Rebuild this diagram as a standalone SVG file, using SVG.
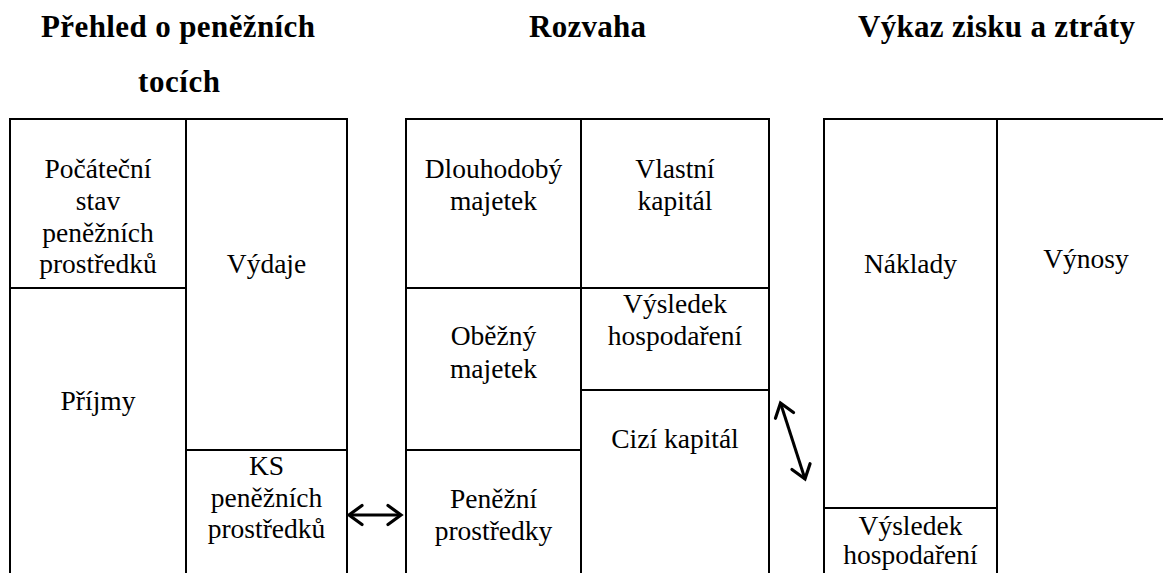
<svg xmlns="http://www.w3.org/2000/svg" width="1163" height="573" viewBox="0 0 1163 573">
  <style>
    .cell { fill: #fff; stroke: #000; stroke-width: 2; }
    .lbl { font-family: "Liberation Serif", "Times New Roman", serif; font-size: 27.5px; fill: #000; text-anchor: middle; }
    .title { font-family: "Liberation Serif", "Times New Roman", serif; font-size: 31px; font-weight: bold; fill: #000; text-anchor: middle; }
    .link { fill: none; stroke: #000; stroke-width: 3; }
  </style>
  <defs>
    <marker id="chevron" viewBox="-16 -12 20 24" refX="0" refY="0" markerWidth="20" markerHeight="24" markerUnits="userSpaceOnUse" orient="auto-start-reverse">
      <path d="M -13 -9.5 L 0 0 L -13 9.5" fill="none" stroke="#000" stroke-width="3.2" stroke-linecap="round" stroke-linejoin="miter"/>
    </marker>
  </defs>
  <rect width="1163" height="573" fill="#fff"/>

  <!-- headings -->
  <g id="headings">
    <text class="title" x="178" y="37" textLength="274" lengthAdjust="spacing">Přehled o peněžních</text>
    <text class="title" x="179" y="92" textLength="82" lengthAdjust="spacing">tocích</text>
    <text class="title" x="587.5" y="37" textLength="117" lengthAdjust="spacing">Rozvaha</text>
    <text class="title" x="996.5" y="37" textLength="277" lengthAdjust="spacing">Výkaz zisku a ztráty</text>
  </g>

  <!-- cash flow statement -->
  <g id="pocatecni-stav">
    <rect class="cell" x="10" y="119" width="176" height="169"/>
    <text class="lbl" x="98" y="178">Počáteční</text>
    <text class="lbl" x="98" y="210">stav</text>
    <text class="lbl" x="98" y="242">peněžních</text>
    <text class="lbl" x="98" y="273">prostředků</text>
  </g>
  <g id="prijmy">
    <rect class="cell" x="10" y="288" width="176" height="320"/>
    <text class="lbl" x="98" y="410">Příjmy</text>
  </g>
  <g id="vydaje">
    <rect class="cell" x="186" y="119" width="161" height="331"/>
    <text class="lbl" x="266.5" y="273">Výdaje</text>
  </g>
  <g id="konecny-stav">
    <rect class="cell" x="186" y="450" width="161" height="160"/>
    <text class="lbl" x="266.5" y="475">KS</text>
    <text class="lbl" x="266.5" y="507">peněžních</text>
    <text class="lbl" x="266.5" y="538">prostředků</text>
  </g>

  <!-- balance sheet -->
  <g id="dlouhodoby-majetek">
    <rect class="cell" x="406" y="119" width="175" height="169"/>
    <text class="lbl" x="493.5" y="178">Dlouhodobý</text>
    <text class="lbl" x="493.5" y="210">majetek</text>
  </g>
  <g id="obezny-majetek">
    <rect class="cell" x="406" y="288" width="175" height="162"/>
    <text class="lbl" x="493.5" y="345">Oběžný</text>
    <text class="lbl" x="493.5" y="378">majetek</text>
  </g>
  <g id="penezni-prostredky">
    <rect class="cell" x="406" y="450" width="175" height="160"/>
    <text class="lbl" x="493.5" y="508">Peněžní</text>
    <text class="lbl" x="493.5" y="540">prostředky</text>
  </g>
  <g id="vlastni-kapital">
    <rect class="cell" x="581" y="119" width="188" height="169"/>
    <text class="lbl" x="675" y="178">Vlastní</text>
    <text class="lbl" x="675" y="210">kapitál</text>
  </g>
  <g id="vysledek-rozvaha">
    <rect class="cell" x="581" y="288" width="188" height="102"/>
    <text class="lbl" x="675" y="313">Výsledek</text>
    <text class="lbl" x="675" y="345">hospodaření</text>
  </g>
  <g id="cizi-kapital">
    <rect class="cell" x="581" y="390" width="188" height="220"/>
    <text class="lbl" x="675" y="448">Cizí kapitál</text>
  </g>

  <!-- income statement -->
  <g id="naklady">
    <rect class="cell" x="824" y="119" width="173" height="389"/>
    <text class="lbl" x="910.5" y="273">Náklady</text>
  </g>
  <g id="vysledek-vzz">
    <rect class="cell" x="824" y="508" width="173" height="102"/>
    <text class="lbl" x="910.5" y="535">Výsledek</text>
    <text class="lbl" x="910.5" y="564">hospodaření</text>
  </g>
  <g id="vynosy">
    <rect class="cell" x="997" y="119" width="220" height="491"/>
    <text class="lbl" x="1086" y="268">Výnosy</text>
  </g>

  <!-- two-way links between statements -->
  <g id="connectors">
    <line class="link" x1="349" y1="515" x2="401" y2="515" marker-start="url(#chevron)" marker-end="url(#chevron)"/>
    <line class="link" x1="780.5" y1="403" x2="805" y2="479" marker-start="url(#chevron)" marker-end="url(#chevron)"/>
  </g>
</svg>
